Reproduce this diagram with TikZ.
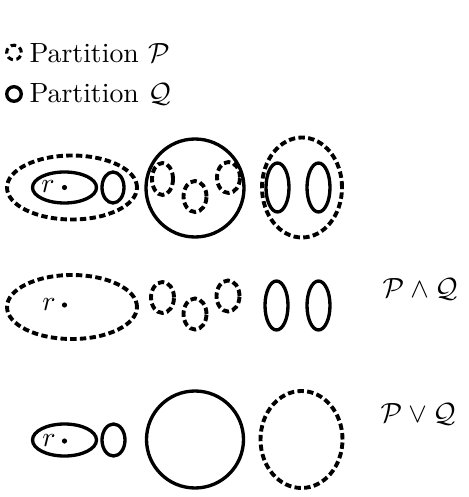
\documentclass[tikz,border=0pt]{standalone}
\usepackage{amsmath}
\begin{document}
\begin{tikzpicture}[x=0.36pt,y=0.36pt,
  solidset/.style={line width=1.2pt},
  dashset/.style={line width=1.4pt, dash pattern=on 2.3pt off 1.2pt},
  legdash/.style={line width=1.1pt, dash pattern=on 2pt off 1.3pt},
  lbl/.style={inner sep=0pt, anchor=base west},
  rlbl/.style={inner sep=0pt, anchor=base},
  dotp/.style={fill=black}]
\useasboundingbox (0,0) rectangle (468,-497);
% legend
\draw[legdash] (14,-52.5) circle [radius=7.3];
\node[lbl] (lp) at (29,-62.3) {Partition $\mathcal{P}$};
\draw[solidset] (14,-94) circle [radius=7.3];
\node[lbl] (lq) at (29,-102.3) {Partition $\mathcal{Q}$};
% row 1
\draw[dashset] (72,-187.5) ellipse [x radius=65, y radius=32];
\draw[solidset] (64.5,-187.5) ellipse [x radius=32, y radius=15.5];
\node[rlbl] (r1) at (48,-193) {$r$};
\fill[dotp] (64.5,-187.5) circle [radius=2.6];
\draw[solidset] (113,-187.5) ellipse [x radius=11, y radius=15.5];
\draw[solidset] (195,-188) circle [radius=49];
\draw[dashset] (162.5,-179) ellipse [x radius=10.5, y radius=16];
\draw[dashset] (195,-196.5) ellipse [x radius=11.5, y radius=15.5];
\draw[dashset] (228.5,-177.5) ellipse [x radius=11.5, y radius=15.5];
\draw[dashset] (302,-187.5) ellipse [x radius=40, y radius=50];
\draw[solidset] (277.5,-187.5) ellipse [x radius=11.5, y radius=24.5];
\draw[solidset] (318.5,-187.5) ellipse [x radius=11.5, y radius=24.5];
% row 2
\draw[dashset] (72,-307) ellipse [x radius=65, y radius=32];
\node[rlbl] (r2) at (49,-310.5) {$r$};
\fill[dotp] (64.5,-305) circle [radius=2.6];
\draw[dashset] (162.5,-297.5) ellipse [x radius=11.5, y radius=15.5];
\draw[dashset] (195,-314) ellipse [x radius=11.5, y radius=15.5];
\draw[dashset] (228,-296) ellipse [x radius=11.5, y radius=15.5];
\draw[solidset] (276.5,-305.5) ellipse [x radius=11.5, y radius=24.5];
\draw[solidset] (318.5,-305.5) ellipse [x radius=11.5, y radius=24.5];
\node[lbl] (meet) at (382,-297) {$\mathcal{P}\wedge\mathcal{Q}$};
% row 3
\draw[solidset] (64.5,-440) ellipse [x radius=32, y radius=16];
\node[rlbl] (r3) at (49,-446) {$r$};
\fill[dotp] (64.5,-441) circle [radius=2.6];
\draw[solidset] (113.5,-440) ellipse [x radius=11.5, y radius=16];
\draw[solidset] (195,-439.5) circle [radius=48.5];
\draw[dashset] (301.5,-439.5) ellipse [x radius=41, y radius=48.5];
\node[lbl] (join) at (380,-422) {$\mathcal{P}\vee\mathcal{Q}$};
\end{tikzpicture}
\end{document}
